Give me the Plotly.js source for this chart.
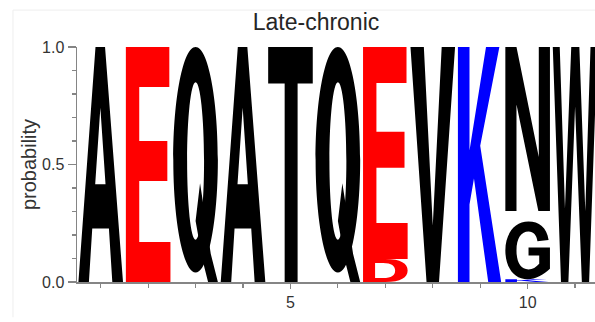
<!DOCTYPE html>
<html>
<head>
<meta charset="utf-8">
<script src="https://cdn.plot.ly/plotly-3.0.1.min.js"></script>
<style>
  html, body { margin: 0; padding: 0; background: #ffffff; }
  #logo { width: 595px; height: 322px; }
</style>
</head>
<body>
<div id="logo"></div>
<script>
// Sequence positions and, per position, the residues stacked from the bottom up
const positions = [1, 2, 3, 4, 5, 6, 7, 8, 9, 10, 11];
const residues = [
  ['A'], ['E'], ['Q'], ['A'], ['T'], ['Q'],
  ['D', 'E'], ['V'], ['K'],
  ['K', 'G', '', 'N'],   // '' = low-frequency residues, left blank
  ['W']
];
const probabilities = [
  [1.0], [1.0], [1.0], [1.0], [1.0], [1.0],
  [0.098, 0.902], [1.0], [1.0],
  [0.012, 0.245, 0.045, 0.698],
  [1.0]
];
const xTickLabels = ['5', '10'];
const xTickValues = [5, 10];

// Residue colouring: acidic red, basic blue, the rest black
const acidic = ['D', 'E'];
const basic = ['K', 'R', 'H'];
function residueColor(r) {
  if (acidic.includes(r)) return '#ff0000';
  if (basic.includes(r)) return '#0000ff';
  return '#000000';
}

// Glyph outlines in a unit box (u to the right, v upwards); each glyph is
// stretched to the width of a column and the height of its probability.
function ellipse(cx, cy, rx, ry) {
  const k = 0.5523;
  const f = n => n.toFixed(4);
  return `M${f(cx + rx)},${f(cy)} ` +
    `C${f(cx + rx)},${f(cy + k * ry)} ${f(cx + k * rx)},${f(cy + ry)} ${f(cx)},${f(cy + ry)} ` +
    `C${f(cx - k * rx)},${f(cy + ry)} ${f(cx - rx)},${f(cy + k * ry)} ${f(cx - rx)},${f(cy)} ` +
    `C${f(cx - rx)},${f(cy - k * ry)} ${f(cx - k * rx)},${f(cy - ry)} ${f(cx)},${f(cy - ry)} ` +
    `C${f(cx + k * rx)},${f(cy - ry)} ${f(cx + rx)},${f(cy - k * ry)} ${f(cx + rx)},${f(cy)} Z`;
}

const glyphs = {
  A: ['M0,0 L0.383,1 L0.597,1 L1,0 L0.76,0 L0.684,0.228 L0.31,0.228 L0.235,0 Z ' +
      'M0.376,0.416 L0.608,0.416 L0.492,0.742 Z'],
  E: ['M0,0 L0,1 L0.975,1 L0.975,0.83 L0.3,0.83 L0.3,0.6 L0.93,0.6 L0.93,0.43 L0.3,0.43 ' +
      'L0.3,0.17 L1,0.17 L1,0 Z'],
  Q: [ellipse(0.5, 0.52, 0.5, 0.48) + ' ' + ellipse(0.5, 0.515, 0.19, 0.335),
      'M0.6,0.42 L0.69,0.31 L0.84,0.12 L1,0 L0.78,0 L0.66,0.09 L0.5,0.26 Z'],
  T: ['M0.37,0 L0.37,0.845 L0,0.845 L0,1 L1,1 L1,0.845 L0.66,0.845 L0.66,0 Z'],
  D: ['M0,0 L0,1 L0.5,1 C0.85,1 1,0.8 1,0.5 C1,0.2 0.85,0 0.5,0 Z ' +
      'M0.27,0.17 L0.45,0.17 C0.64,0.17 0.72,0.3 0.72,0.5 C0.72,0.7 0.64,0.83 0.45,0.83 L0.27,0.83 Z'],
  V: ['M0,1 L0.3,1 L0.5,0.24 L0.7,1 L1,1 L0.64,0 L0.36,0 Z'],
  K: ['M0,0 L0,1 L0.26,1 L0.26,0.56 L0.63,1 L0.93,1 L0.5,0.58 L0.97,0 L0.68,0 ' +
      'L0.36,0.44 L0.26,0.33 L0.26,0 Z'],
  N: ['M0,0 L0,1 L0.25,1 L0.75,0.33 L0.75,1 L1,1 L1,0 L0.74,0 L0.25,0.65 L0.25,0 Z'],
  G: ['M0.97,0.68 C0.93,0.9 0.75,1 0.52,1 C0.2,1 0,0.78 0,0.5 C0,0.2 0.2,0 0.5,0 ' +
      'C0.68,0 0.85,0.07 1,0.18 L1,0.55 L0.52,0.55 L0.52,0.41 L0.76,0.41 L0.76,0.27 ' +
      'C0.69,0.21 0.61,0.17 0.52,0.17 C0.34,0.17 0.25,0.3 0.25,0.5 C0.25,0.72 0.36,0.83 0.52,0.83 ' +
      'C0.63,0.83 0.7,0.77 0.72,0.66 Z'],
  W: ['M0.184,0 L0,1 L0.156,1 L0.273,0.313 L0.414,1 L0.596,1 L0.729,0.302 L0.846,1 L1,1 ' +
      'L0.815,0 L0.652,0 L0.5,0.747 L0.35,0 Z']
};

const halfWidth = 0.47;   // half the column width, in position units

function placeGlyph(unitPath, x, y0, h) {
  return unitPath.replace(/(-?\d*\.?\d+),(-?\d*\.?\d+)/g, (m, u, v) => {
    const X = x - halfWidth + parseFloat(u) * 2 * halfWidth;
    const Y = y0 + parseFloat(v) * h;
    return X.toFixed(5) + ',' + Y.toFixed(5);
  });
}

const shapes = [];
positions.forEach((pos, i) => {
  let base = 0;
  residues[i].forEach((res, j) => {
    const p = probabilities[i][j];
    if (res && glyphs[res]) {
      glyphs[res].forEach(unitPath => {
        shapes.push({
          type: 'path', xref: 'x', yref: 'y', layer: 'below',
          path: placeGlyph(unitPath, pos, base, p),
          fillcolor: residueColor(res), fillrule: 'evenodd',
          line: { width: 0 }
        });
      });
    }
    base += p;
  });
});

// faint frame of the figure panel
shapes.push({
  type: 'path', xref: 'paper', yref: 'paper',
  path: 'M-0.1236,-0.15 L-0.1236,1.157 L1.05,1.157',
  line: { color: 'rgb(238,238,238)', width: 1 }
});

const columnTotals = probabilities.map(col => col.reduce((a, b) => a + b, 0));

const font = 'Liberation Sans, Arial, Helvetica, sans-serif';
const axisGray = '#858585';

const data = [{
  type: 'scatter', mode: 'markers',
  x: positions, y: columnTotals,
  marker: { opacity: 0 }, hoverinfo: 'skip', showlegend: false
}];

const layout = {
  width: 595, height: 322,
  margin: { l: 77, r: 0, t: 47, b: 40 },
  paper_bgcolor: '#ffffff', plot_bgcolor: 'rgba(0,0,0,0)',
  showlegend: false,
  font: { family: font, color: '#333333' },
  title: {
    text: 'Late-chronic',
    font: { family: font, size: 23, color: '#262626' },
    xref: 'paper', x: (316 - 77) / 518, xanchor: 'center',
    yref: 'container', y: 1 - 22 / 322, yanchor: 'middle'
  },
  xaxis: {
    range: [0.5, 11.42],
    showline: true, linecolor: axisGray, linewidth: 1.5,
    showgrid: false, zeroline: false,
    tickmode: 'array', tickvals: xTickValues, ticktext: xTickLabels,
    ticks: 'outside', ticklen: 5, tickwidth: 1.2, tickcolor: axisGray,
    tickfont: { family: font, size: 16, color: '#333333' },
    minor: { dtick: 1, tick0: 0, ticks: 'outside', ticklen: 4, tickwidth: 1.2, tickcolor: axisGray },
    fixedrange: true
  },
  yaxis: {
    range: [0, 1],
    showline: true, linecolor: axisGray, linewidth: 1.5,
    showgrid: false, zeroline: false,
    dtick: 0.5, tick0: 0, tickformat: '.1f',
    ticks: 'outside', ticklen: 8, tickwidth: 1.2, tickcolor: axisGray,
    tickfont: { family: font, size: 16, color: '#333333' },
    minor: { dtick: 0.1, tick0: 0, ticks: 'outside', ticklen: 4, tickwidth: 1.2, tickcolor: axisGray },
    title: { text: 'probability', font: { family: font, size: 20, color: '#333333' }, standoff: 0 },
    fixedrange: true
  },
  shapes: shapes
};

Plotly.newPlot('logo', data, layout, { displayModeBar: false, staticPlot: true });
</script>
</body>
</html>
